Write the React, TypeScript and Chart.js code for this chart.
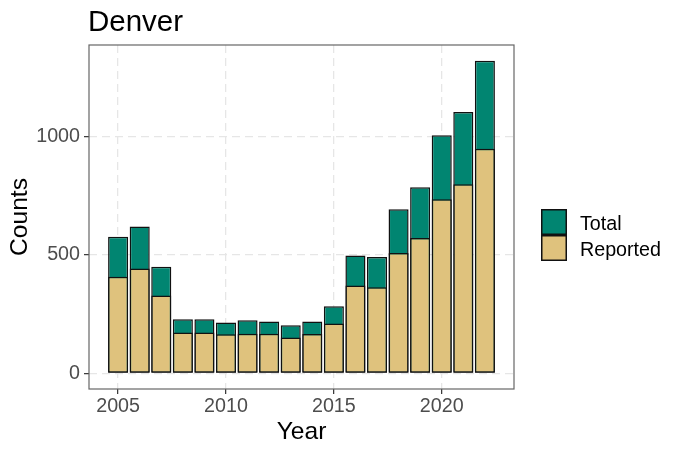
import React, { useEffect, useRef } from "react";
import { Chart, registerables } from "chart.js";

Chart.register(...registerables);

const years = [2005, 2006, 2007, 2008, 2009, 2010, 2011, 2012, 2013, 2014, 2015, 2016, 2017, 2018, 2019, 2020, 2021, 2022];
const totalCounts = [577, 620, 450, 229, 229, 215, 224, 219, 203, 219, 283, 498, 492, 693, 786, 1006, 1104, 1321];
const reportedCounts = [408, 443, 329, 173, 173, 165, 167, 167, 152, 166, 211, 371, 364, 508, 572, 736, 799, 949];
const xTickValues = [2005, 2010, 2015, 2020];
const yTickValues = [0, 500, 1000];
const seriesNames = ["Total", "Reported"];
const seriesColors = ["#018571", "#dfc27d"];

const FONT = "'Liberation Sans', Arial, sans-serif";

const overlayPlugin = {
  id: "overlay",
  afterDraw(chart: any) {
    const ctx = chart.ctx;
    const a = chart.chartArea;
    ctx.save();
    // panel border
    ctx.strokeStyle = "#666666";
    ctx.lineWidth = 1.2;
    ctx.strokeRect(a.left, a.top, a.right - a.left, a.bottom - a.top);
    // title
    ctx.fillStyle = "#000000";
    ctx.textAlign = "left";
    ctx.textBaseline = "alphabetic";
    ctx.font = `29.5px ${FONT}`;
    ctx.fillText("Denver", a.left - 1, 31);
    // x title
    ctx.font = `24.6px ${FONT}`;
    ctx.textAlign = "center";
    ctx.fillText("Year", (a.left + a.right) / 2, 439);
    // y title
    ctx.save();
    ctx.translate(27, (a.top + a.bottom) / 2);
    ctx.rotate(-Math.PI / 2);
    ctx.fillText("Counts", 0, 0);
    ctx.restore();
    // legend
    const kx = 541;
    const ky = 209;
    const ks = 26;
    seriesNames.forEach((name, i) => {
      ctx.fillStyle = seriesColors[i];
      ctx.fillRect(kx, ky + i * ks, ks, ks);
      ctx.strokeStyle = "#111111";
      ctx.lineWidth = 1.5;
      ctx.strokeRect(kx + 0.75, ky + i * ks + 0.75, ks - 1.5, ks - 1.5);
      ctx.fillStyle = "#000000";
      ctx.textAlign = "left";
      ctx.textBaseline = "alphabetic";
      ctx.font = `19.7px ${FONT}`;
      ctx.fillText(name, 580, ky + i * ks + 21);
    });
    ctx.restore();
  },
};

export default function App() {
  const ref = useRef<HTMLCanvasElement | null>(null);

  useEffect(() => {
    if (!ref.current) return;
    const chart = new Chart(ref.current, {
      type: "bar",
      data: {
        datasets: [
          {
            label: seriesNames[0],
            data: years.map((yr, i) => ({ x: yr, y: totalCounts[i] })),
            backgroundColor: seriesColors[0],
            borderColor: "#111111",
            borderWidth: 1.5,
            borderSkipped: false,
            grouped: false,
            order: 2,
            categoryPercentage: 1,
            barPercentage: 0.93,
          },
          {
            label: seriesNames[1],
            data: years.map((yr, i) => ({ x: yr, y: reportedCounts[i] })),
            backgroundColor: seriesColors[1],
            borderColor: "#111111",
            borderWidth: 1.5,
            borderSkipped: false,
            grouped: false,
            order: 1,
            categoryPercentage: 1,
            barPercentage: 0.93,
          },
        ] as any,
      },
      options: {
        responsive: false,
        animation: false,
        devicePixelRatio: 1,
        layout: { padding: { top: 45, right: 166, left: 0, bottom: 0 } },
        plugins: {
          legend: { display: false },
          tooltip: { enabled: false },
          title: { display: false },
        },
        scales: {
          x: {
            type: "linear",
            min: 2003.65,
            max: 2023.35,
            offset: false,
            afterBuildTicks: (s: any) => {
              s.ticks = xTickValues.map((v) => ({ value: v }));
            },
            afterFit: (s: any) => {
              s.height = 64;
            },
            grid: {
              color: "#e6e6e6",
              lineWidth: 1.3,
              drawTicks: true,
              tickLength: 5,
              tickColor: "#333333",
              tickWidth: 1.2,
              tickBorderDash: [],
              offset: false,
            },
            border: { display: false, dash: [8, 5] },
            ticks: {
              color: "#4d4d4d",
              font: { family: FONT, size: 19.7 },
              padding: 1,
              maxRotation: 0,
              autoSkip: false,
              callback: (v: any) => String(v),
            },
          },
          y: {
            type: "linear",
            min: -66,
            max: 1387,
            afterBuildTicks: (s: any) => {
              s.ticks = yTickValues.map((v) => ({ value: v }));
            },
            afterFit: (s: any) => {
              s.width = 89;
            },
            grid: {
              color: "#e6e6e6",
              lineWidth: 1.3,
              drawTicks: true,
              tickLength: 5,
              tickColor: "#333333",
              tickWidth: 1.2,
              tickBorderDash: [],
            },
            border: { display: false, dash: [8, 5] },
            ticks: {
              color: "#4d4d4d",
              font: { family: FONT, size: 19.7 },
              padding: 4,
              callback: (v: any) => String(v),
            },
          },
        },
      } as any,
      plugins: [overlayPlugin],
    });
    return () => chart.destroy();
  }, []);

  return (
    <div style={{ position: "absolute", left: 0, top: 0, width: 680, height: 453, background: "#ffffff" }}>
      <canvas ref={ref} width={680} height={453} />
    </div>
  );
}
